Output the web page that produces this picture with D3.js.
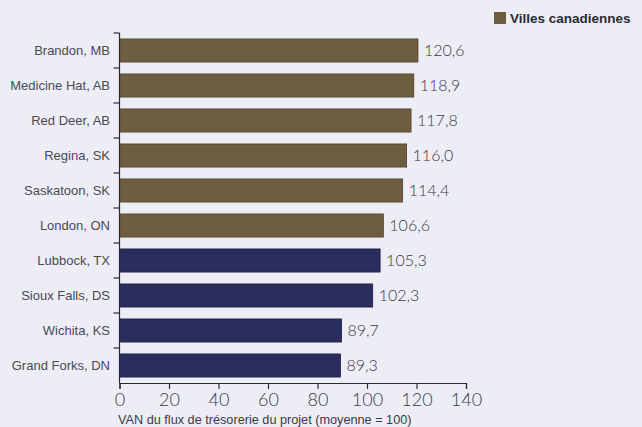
<!DOCTYPE html>
<html>
<head>
<meta charset="utf-8">
<script src="https://cdn.jsdelivr.net/npm/d3@7"></script>
<style>
  html, body { margin: 0; padding: 0; background: #ededf5; }
  svg { display: block; }
</style>
</head>
<body>
<div id="chart"></div>
<script>
"use strict";

var cities = ["Brandon, MB", "Medicine Hat, AB", "Red Deer, AB", "Regina, SK", "Saskatoon, SK",
  "London, ON", "Lubbock, TX", "Sioux Falls, DS", "Wichita, KS", "Grand Forks, DN"];
var values = [120.6, 118.9, 117.8, 116.0, 114.4, 106.6, 105.3, 102.3, 89.7, 89.3];
var canadian = [true, true, true, true, true, true, false, false, false, false];
var xTicks = [0, 20, 40, 60, 80, 100, 120, 140];
var legendLabel = "Villes canadiennes";
var xTitle = "VAN du flux de trésorerie du projet (moyenne = 100)";

var width = 642, height = 427;
var brown = "#6f5d3f", navy = "#2b2d5e";

var data = cities.map(function(c, i) {
  return {city: c, value: values[i], ca: canadian[i]};
});

var svg = d3.select("#chart").append("svg")
  .attr("width", width)
  .attr("height", height);

var x = d3.scaleLinear().domain([0, 140]).range([119.5, 466]);
var y = d3.scaleBand().domain(cities).range([33, 383]).paddingInner(0.34).paddingOuter(0.17);

var fmt = function(v) { return d3.format(".1f")(v).replace(".", ","); };

// bars
svg.append("g")
  .selectAll("rect")
  .data(data)
  .enter().append("rect")
  .attr("x", x(0))
  .attr("y", function(d) { return y(d.city); })
  .attr("width", function(d) { return x(d.value) - x(0); })
  .attr("height", y.bandwidth())
  .attr("fill", function(d) { return d.ca ? brown : navy; })
  .attr("stroke", function(d) { return d.ca ? "#4e412b" : "#1d1f45"; })
  .attr("stroke-width", 0.8);

// value labels
svg.append("g")
  .selectAll("text")
  .data(data)
  .enter().append("text")
  .attr("x", function(d) { return x(d.value) + 6; })
  .attr("y", function(d) { return y(d.city) + y.bandwidth() / 2; })
  .attr("dy", "0.36em")
  .attr("font-family", "Lato, 'Open Sans', sans-serif")
  .attr("font-weight", 300)
  .attr("font-size", 16)
  .attr("fill", "#3a3a48")
  .text(function(d) { return fmt(d.value); });

// y axis: line + ticks at band boundaries
var yAxis = svg.append("g");
yAxis.append("line")
  .attr("x1", x(0)).attr("x2", x(0))
  .attr("y1", y.range()[0]).attr("y2", y.range()[1])
  .attr("stroke", "#2a2a33").attr("stroke-width", 1.2);
var step = y.step();
var bounds = d3.range(cities.length).map(function(i) { return y(cities[i]) - step * y.paddingInner() / 2; });
yAxis.selectAll("line.tk")
  .data(bounds)
  .enter().append("line")
  .attr("class", "tk")
  .attr("x1", x(0) - 6).attr("x2", x(0))
  .attr("y1", function(d) { return d; }).attr("y2", function(d) { return d; })
  .attr("stroke", "#2a2a33").attr("stroke-width", 1.2);
yAxis.selectAll("text")
  .data(cities)
  .enter().append("text")
  .attr("x", 110)
  .attr("y", function(d) { return y(d) + y.bandwidth() / 2; })
  .attr("dy", "0.36em")
  .attr("text-anchor", "end")
  .attr("font-family", "'Liberation Sans', Arial, sans-serif")
  .attr("font-size", 13)
  .attr("fill", "#4a4a55")
  .text(function(d) { return d; });

// x axis
var xAxis = svg.append("g")
  .attr("transform", "translate(0,383)")
  .call(d3.axisBottom(x).tickValues(xTicks).tickSize(6).tickPadding(4).tickFormat(d3.format("d")));
xAxis.select(".domain").attr("stroke", "#2a2a33").attr("stroke-width", 1.2);
xAxis.selectAll(".tick line").attr("stroke", "#2a2a33").attr("stroke-width", 1.2);
xAxis.selectAll(".tick text")
  .attr("font-family", "Lato, 'Open Sans', sans-serif")
  .attr("font-weight", 300)
  .attr("font-size", 18)
  .attr("fill", "#3a3a48");

svg.append("text")
  .attr("x", 118)
  .attr("y", 424)
  .attr("font-family", "'Liberation Sans', Arial, sans-serif")
  .attr("font-size", 12.7)
  .attr("fill", "#3a3a48")
  .text(xTitle);

// legend
svg.append("rect")
  .attr("x", 494).attr("y", 12)
  .attr("width", 12).attr("height", 12)
  .attr("fill", brown);
svg.append("text")
  .attr("x", 510).attr("y", 18)
  .attr("dy", "0.36em")
  .attr("font-family", "'Liberation Sans', Arial, sans-serif")
  .attr("font-weight", "bold")
  .attr("font-size", 13.5)
  .attr("fill", "#2a2a33")
  .text(legendLabel);
</script>
</body>
</html>
